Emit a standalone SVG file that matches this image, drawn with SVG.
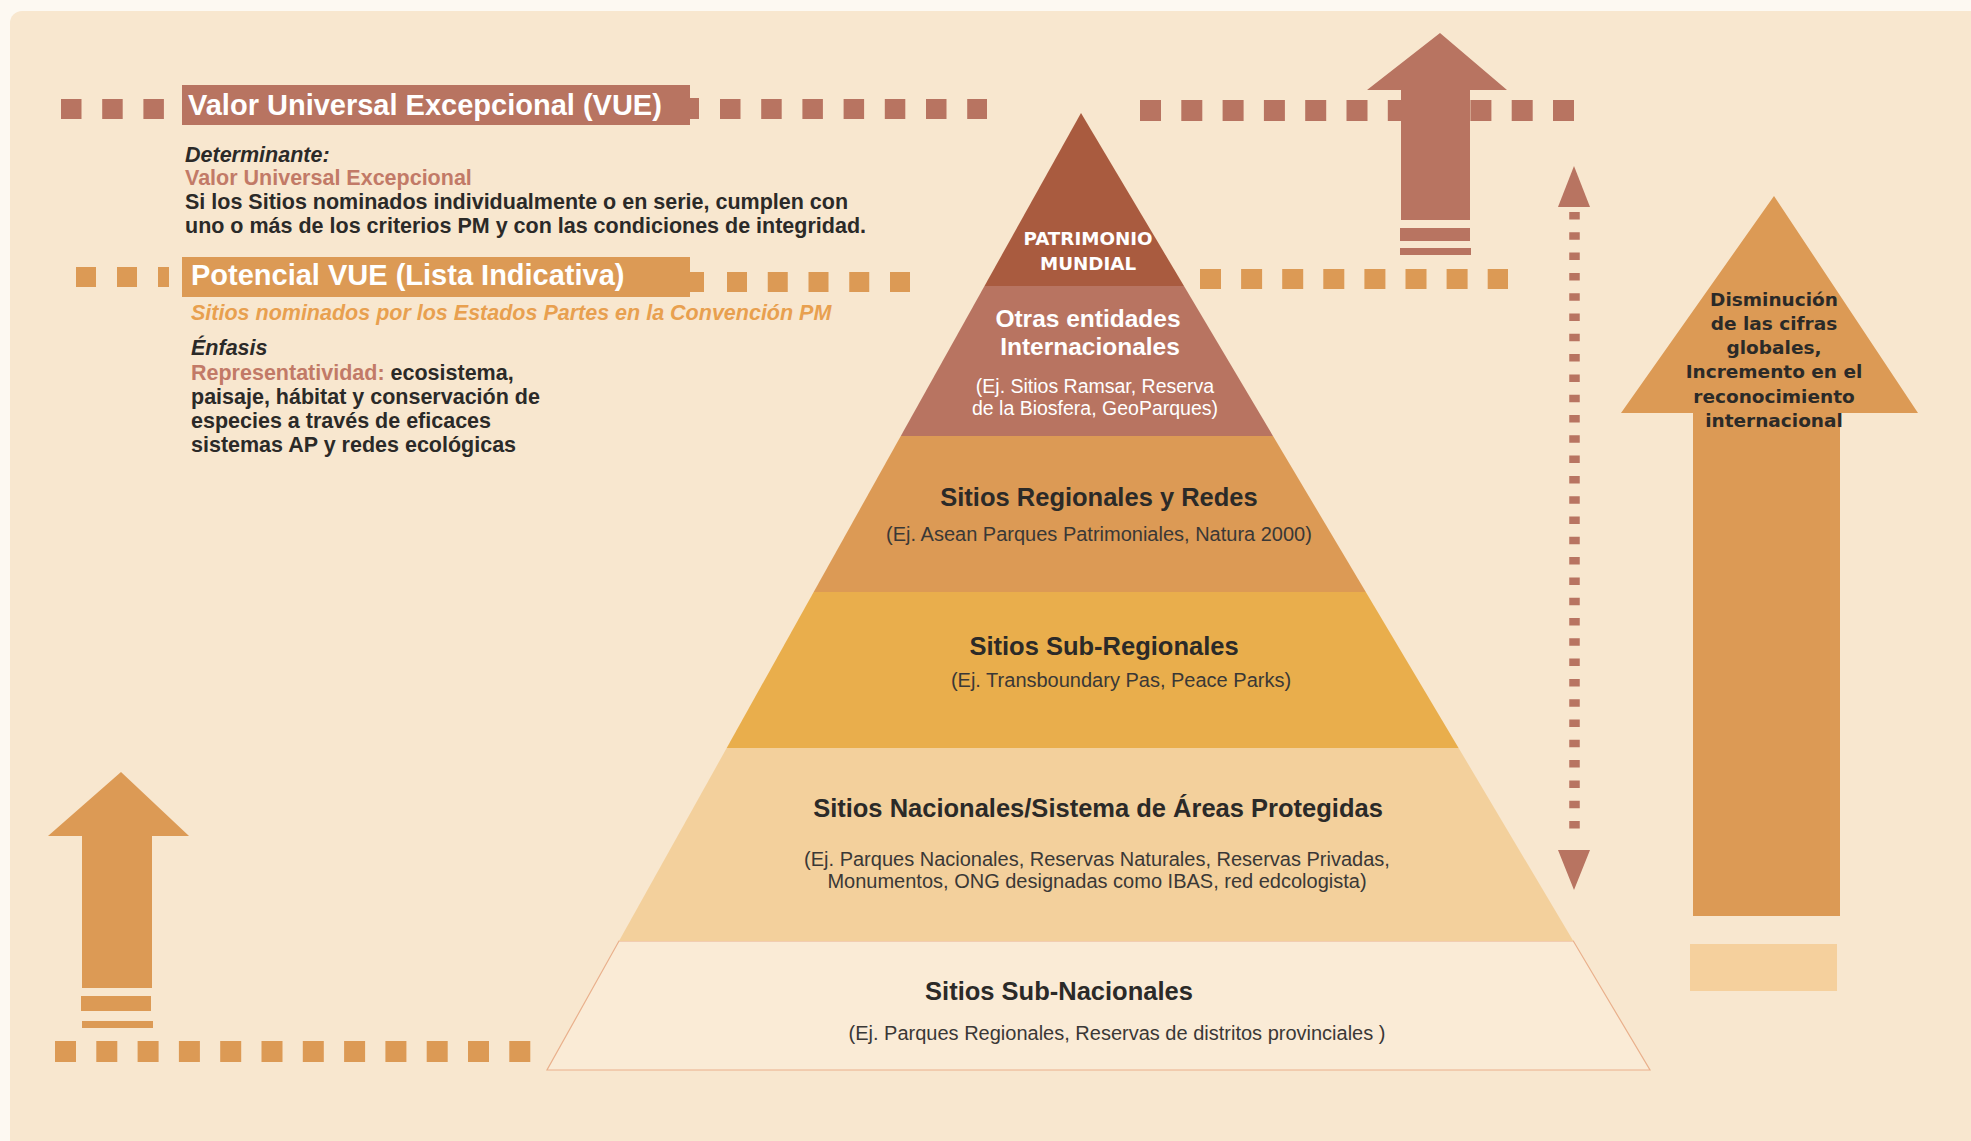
<svg xmlns="http://www.w3.org/2000/svg" width="1971" height="1141" viewBox="0 0 1971 1141">
<defs>
<style>
.b{font-family:"Liberation Sans",Arial,sans-serif;font-weight:bold}
.r{font-family:"Liberation Sans",Arial,sans-serif}
.v{font-family:"DejaVu Sans",Verdana,sans-serif;font-weight:bold}
.w{fill:#ffffff}
.dk{fill:#2b2a28}
.gy{fill:#3a3836}
.sal{fill:#c27a67}
.brown{fill:#b87461}
.orange{fill:#dc9a55}
.ban{font-size:29px}
.body{font-size:21.5px}
.tl{font-size:25.5px}
.ex{font-size:20px}
.c{text-anchor:middle}
</style>
</defs>
<rect x="0" y="0" width="1971" height="1141" fill="#fdf9f2"/>
<rect x="10" y="11" width="1980" height="1150" rx="12" fill="#f8e7cf"/>

<g id="connectors">
  <!-- VUE level dashes -->
  <line x1="61" y1="109" x2="164" y2="109" stroke="#b87461" stroke-width="20" stroke-dasharray="20.5 20.7"/>
  <line x1="720" y1="109" x2="987" y2="109" stroke="#b87461" stroke-width="20" stroke-dasharray="20.5 20.7"/>
  <line x1="1140" y1="110.5" x2="1574" y2="110.5" stroke="#b87461" stroke-width="21" stroke-dasharray="21 20.3"/>
  <!-- Potencial level dashes -->
  <rect x="76" y="267" width="20" height="20" fill="#dc9a55"/>
  <rect x="117" y="267" width="20" height="20" fill="#dc9a55"/>
  <rect x="158" y="267" width="11" height="20" fill="#dc9a55"/>
  <line x1="727" y1="282" x2="910" y2="282" stroke="#dc9a55" stroke-width="20" stroke-dasharray="20 20.75"/>
  <line x1="1200" y1="279" x2="1508" y2="279" stroke="#dc9a55" stroke-width="20" stroke-dasharray="21 20.1"/>
  <!-- bottom dashes -->
  <line x1="55" y1="1051.5" x2="531" y2="1051.5" stroke="#dc9a55" stroke-width="21" stroke-dasharray="21 20.3"/>

  <!-- top brown arrow -->
  <g id="arrow-top" fill="#b87461">
    <polygon points="1440,33 1507,90 1470,90 1470,220 1401,220 1401,90 1367,90"/>
    <rect x="1400" y="228" width="70" height="13"/>
    <rect x="1400" y="248" width="71" height="7"/>
  </g>
  <!-- left orange arrow -->
  <g id="arrow-left" fill="#dc9a55">
    <polygon points="121,772 189,836 152,836 152,988 82,988 82,836 48,836"/>
    <rect x="81" y="996" width="70" height="15"/>
    <rect x="82" y="1021" width="71" height="7"/>
  </g>
  <!-- dotted double arrow -->
  <g id="arrow-double" fill="#b87461">
    <polygon points="1574,166 1590,207 1558,207"/>
    <line x1="1574.5" y1="212" x2="1574.5" y2="838" stroke="#b87461" stroke-width="10.5" stroke-dasharray="7.5 12.8"/>
    <polygon points="1558,850 1590,850 1574,890"/>
  </g>
  <!-- big right arrow -->
  <g id="arrow-right">
    <polygon points="1774,196 1918,413 1840,413 1840,916 1693,916 1693,413 1621,413" fill="#dc9a55"/>
    <rect x="1690" y="944" width="147" height="47" fill="#f5d09d"/>
  </g>
</g>

<g id="banner-vue">
  <rect x="182" y="85" width="508" height="40" fill="#b87461"/>
  <rect x="688" y="98" width="11" height="21" fill="#b87461"/>
  <text x="188" y="115" class="b ban w">Valor Universal Excepcional (VUE)</text>
</g>

<g id="text-determinante">
  <text x="185" y="162" class="b body dk" font-style="italic">Determinante:</text>
  <text x="185" y="185" class="b body sal">Valor Universal Excepcional</text>
  <text x="185" y="209" class="b body dk">Si los Sitios nominados individualmente o en serie, cumplen con</text>
  <text x="185" y="233" class="b body dk">uno o más de los criterios PM y con las condiciones de integridad.</text>
</g>

<g id="banner-potencial">
  <rect x="182" y="257" width="508" height="40" fill="#dc9a55"/>
  <rect x="688" y="272" width="16" height="20" fill="#dc9a55"/>
  <text x="191" y="285" class="b ban w">Potencial VUE (Lista Indicativa)</text>
</g>

<g id="text-enfasis">
  <text x="191" y="320" class="b body" font-style="italic" fill="#e8a04f">Sitios nominados por los Estados Partes en la Convención PM</text>
  <text x="191" y="355" class="b body dk" font-style="italic">Énfasis</text>
  <text x="191" y="380" class="b body dk"><tspan class="sal">Representatividad:</tspan> ecosistema,</text>
  <text x="191" y="404" class="b body dk">paisaje, hábitat y conservación de</text>
  <text x="191" y="428" class="b body dk">especies a través de eficaces</text>
  <text x="191" y="452" class="b body dk">sistemas AP y redes ecológicas</text>
</g>

<g id="level-subnacionales">
  <polygon points="619,941 1573.3,941 1650,1070 547,1070" fill="#faebd6" stroke="#e9b08c" stroke-width="1.2"/>
  <text x="1059" y="1000" class="b tl dk c">Sitios Sub-Nacionales</text>
  <text x="1117" y="1040" class="r ex gy c">(Ej. Parques Regionales, Reservas de distritos provinciales )</text>
</g>

<g id="level-nacionales">
  <polygon points="726.7,748 1458.6,748 1573.3,941 619,941" fill="#f3d09c"/>
  <text x="1098" y="817" class="b tl dk c">Sitios Nacionales/Sistema de Áreas Protegidas</text>
  <text x="1097" y="866" class="r ex gy c">(Ej. Parques Nacionales, Reservas Naturales, Reservas Privadas,</text>
  <text x="1097" y="888" class="r ex gy c">Monumentos, ONG designadas como IBAS, red edcologista)</text>
</g>

<g id="level-subregionales">
  <polygon points="813.7,592 1365.8,592 1458.6,748 726.7,748" fill="#e9ae4c"/>
  <text x="1104" y="655" class="b tl dk c">Sitios Sub-Regionales</text>
  <text x="1121" y="687" class="r ex gy c">(Ej. Transboundary Pas, Peace Parks)</text>
</g>

<g id="level-regionales">
  <polygon points="900.8,436 1273,436 1365.8,592 813.7,592" fill="#dc9a55"/>
  <text x="1099" y="506" class="b tl dk c">Sitios Regionales y Redes</text>
  <text x="1099" y="541" class="r ex gy c">(Ej. Asean Parques Patrimoniales, Natura 2000)</text>
</g>

<g id="level-internacionales">
  <polygon points="984.5,286 1184,286 1273,436 900.8,436" fill="#b87461"/>
  <text x="1088" y="327" class="b w c" font-size="24.5">Otras entidades</text>
  <text x="1090" y="355" class="b w c" font-size="24.5">Internacionales</text>
  <text x="1095" y="393" class="r w c" font-size="19.5">(Ej. Sitios Ramsar, Reserva</text>
  <text x="1095" y="415" class="r w c" font-size="19.5">de la Biosfera, GeoParques)</text>
</g>

<g id="level-patrimonio">
  <polygon points="1081,113 1184,286 984.5,286" fill="#a95b3f"/>
  <text x="1088" y="245" class="v w c" font-size="18.3">PATRIMONIO</text>
  <text x="1088" y="270" class="v w c" font-size="18.3">MUNDIAL</text>
</g>

<g id="text-disminucion" class="v dk c" font-size="18.5">
  <text x="1774" y="306">Disminución</text>
  <text x="1774" y="330">de las cifras</text>
  <text x="1774" y="354">globales,</text>
  <text x="1774" y="378">Incremento en el</text>
  <text x="1774" y="403">reconocimiento</text>
  <text x="1774" y="427">internacional</text>
</g>
</svg>
